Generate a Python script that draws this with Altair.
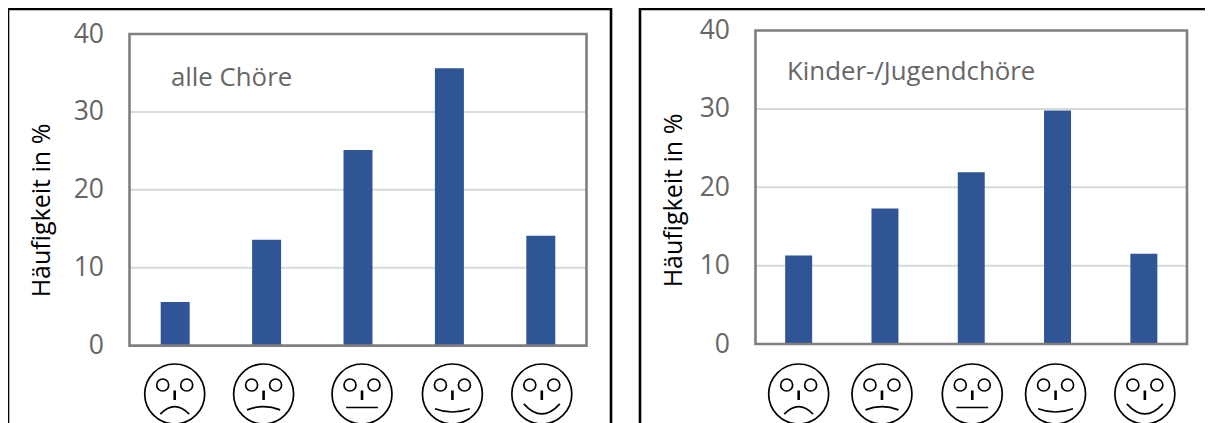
import altair as alt
import pandas as pd

moods = ["sehr unzufrieden", "unzufrieden", "neutral", "zufrieden", "sehr zufrieden"]
alle = [5.6, 13.6, 25.1, 35.6, 14.1]
kinder = [11.3, 17.3, 21.9, 29.8, 11.5]
ticks = [0, 10, 20, 30, 40]
grid_values = [10, 20, 30]
y_title = "Häufigkeit in %"

BAR = "#2f5597"
TXT = "#666666"
FONT = "Open Sans"
O = 12  # page offset of the chart origin (8px margin + 4px padding)


def face(mouth):
    circle = "M1 0A1 1 0 1 1 -1 0A1 1 0 1 1 1 0Z"
    eye_l = "M-.2 -.3A.2 .2 0 1 1 -.6 -.3A.2 .2 0 1 1 -.2 -.3Z"
    eye_r = "M.6 -.3A.2 .2 0 1 1 .2 -.3A.2 .2 0 1 1 .6 -.3Z"
    nose = "M-.015 -.12L-.015 .2M.015 -.12L.015 .2"
    return " ".join([circle, eye_l, eye_r, nose, mouth])


mouths = [
    "M-.48 .67Q0 .17 .48 .67",
    "M-.55 .53Q0 .31 .55 .53",
    "M-.53 .45L.53 .45",
    "M-.58 .49Q0 .71 .58 .49",
    "M-.6 .33Q0 1.0 .6 .33",
]


def panel(values, x0, x1, y0, y40, padding, face_off, title_x, title_y, label, label_x, label_y, frame_x0, frame_x1):
    df = pd.DataFrame({"stimmung": moods, "wert": values})
    xscale = alt.Scale(
        domain=moods,
        range=[x0 - O, x1 - O],
        paddingInner=padding,
        paddingOuter=padding / 2,
    )
    yscale = alt.Scale(domain=[0, 40], range=[y0 - O, y40 - O], nice=False, zero=True)
    xs = alt.X("stimmung:N", sort=moods, axis=None, scale=xscale)
    ys = alt.Y(
        "wert:Q",
        scale=yscale,
        axis=alt.Axis(
            orient="left",
            values=ticks,
            title=y_title,
            grid=False,
            domain=False,
            ticks=False,
            labelFont=FONT,
            labelFontSize=26.5,
            labelColor=TXT,
            labelPadding=26,
            offset=-(x0 - O),
            titleFont=FONT,
            titleFontSize=25,
            titleFontWeight="normal",
            titleColor="#000000",
            titleX=title_x - x0,
            titleY=title_y - O,
            titleAlign="center",
            titleBaseline="middle",
            labelOverlap=False,
        ),
    )
    frame = alt.Chart(pd.DataFrame({"a": [0]})).mark_rect(
        fillOpacity=0, stroke="#000000", strokeWidth=2.6
    ).encode(
        x=alt.value(frame_x0 - O),
        x2=alt.value(frame_x1 - O),
        y=alt.value(9 - O),
        y2=alt.value(700),
    )
    grid = alt.Chart(pd.DataFrame({"wert": grid_values})).mark_rule(
        color="#d9d9d9", strokeWidth=2
    ).encode(
        y=alt.Y("wert:Q", scale=yscale, axis=None),
        x=alt.value(x0 - O),
        x2=alt.value(x1 - O),
    )
    bars = alt.Chart(df).mark_bar(color=BAR).encode(x=xs, y=ys)
    border = alt.Chart(pd.DataFrame({"a": [0]})).mark_rect(
        fillOpacity=0, stroke="#7f7f7f", strokeWidth=2.6
    ).encode(
        x=alt.value(x0 - O),
        x2=alt.value(x1 - O),
        y=alt.value(y40 - O),
        y2=alt.value(y0 - O),
    )
    text = alt.Chart(pd.DataFrame({"a": [0]})).mark_text(
        text=label, font=FONT, fontSize=25.8, color=TXT, align="left", baseline="middle"
    ).encode(x=alt.value(label_x - O), y=alt.value(label_y - O))
    layers = [frame, grid, bars, border, text]
    for i, m in enumerate(moods):
        one = pd.DataFrame({"stimmung": [m]})
        layers.append(
            alt.Chart(one).mark_point(
                shape=face(mouths[i]), size=3600, filled=False, stroke="#000000",
                strokeWidth=1.7, opacity=1,
            ).encode(
                x=alt.X("stimmung:N", sort=moods, axis=None, scale=xscale),
                xOffset=alt.value(face_off[i]),
                y=alt.value(394 - O),
            )
        )
    return alt.layer(*layers).resolve_axis(y="independent")


left = panel(alle, 129.5, 586.5, 345.6, 34, 0.683, [14, 11.5, 18.5, 17.5, 15.5], 41, 210,
             "alle Chöre", 171, 78, 8, 611)
right = panel(kinder, 755.5, 1187, 344, 30.5, 0.6875, [13.5, 10.5, 14.5, 11.5, 14.5], 673, 200,
              "Kinder-/Jugendchöre", 787, 72, 640, 1400)

chart = (
    alt.layer(left, right)
    .resolve_scale(x="independent", y="independent")
    .resolve_axis(y="independent")
    .properties(width=1193, height=411, background="white",
                padding={"left": 4, "top": 4, "right": 0, "bottom": 0},
                autosize=alt.AutoSizeParams(type="none"))
    .configure_view(stroke=None)
)
chart.save("out.html", embed_options={"renderer": "svg", "actions": False})
